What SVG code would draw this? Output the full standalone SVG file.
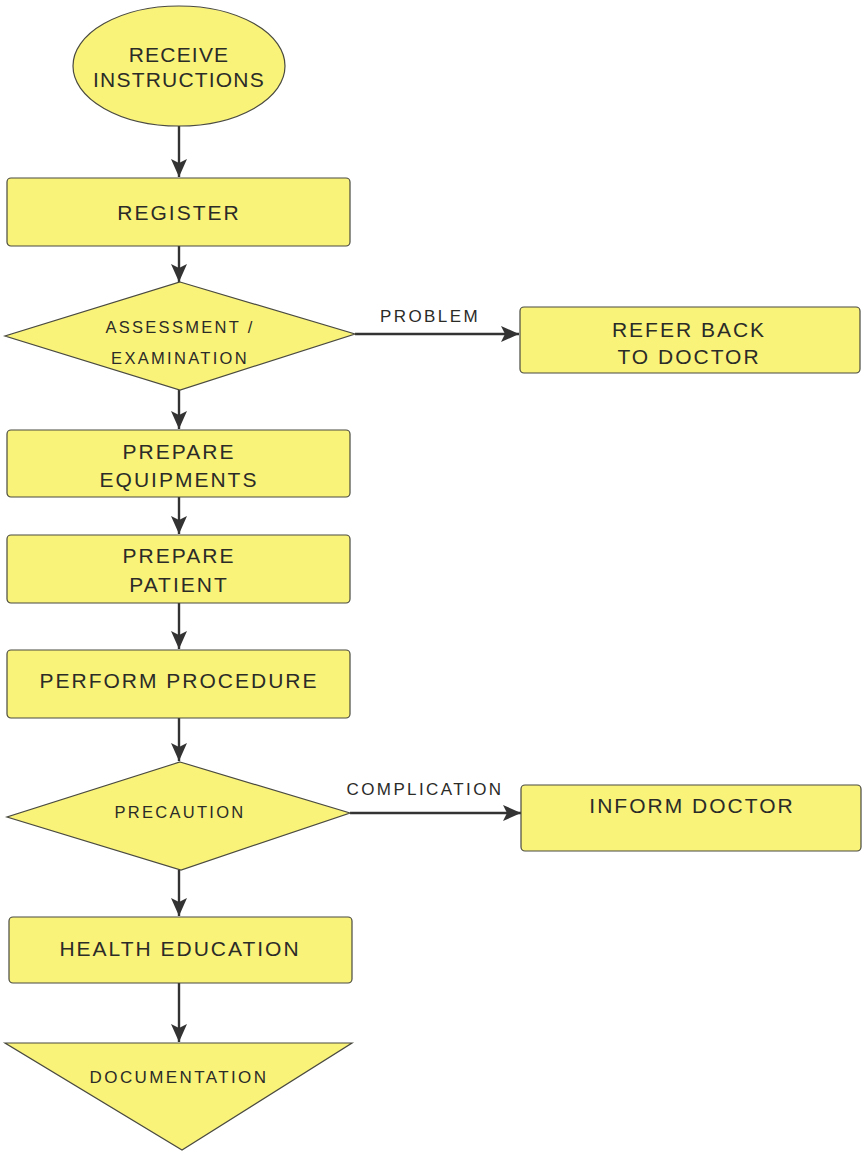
<svg xmlns="http://www.w3.org/2000/svg" width="864" height="1152" viewBox="0 0 864 1152">
<defs>
<style>
.shape{fill:#faf37a;stroke:#4a4a40;stroke-width:1.2}
.t{font-family:"Liberation Sans",Arial,Helvetica,sans-serif;fill:#2b2b28;text-anchor:middle}
.big{font-size:21px;letter-spacing:2px}
.small{font-size:16.5px;letter-spacing:2.3px}
.lab{font-size:17px;letter-spacing:2.4px}
.conn{stroke:#333;stroke-width:2.4;fill:none;marker-end:url(#ah)}
</style>
<marker id="ah" markerUnits="userSpaceOnUse" markerWidth="18" markerHeight="16" viewBox="0 0 18 16" refX="18" refY="8" orient="auto">
<path d="M0,0 L18,8 L0,16 L4,8 Z" fill="#333"/>
</marker>
</defs>
<rect width="864" height="1152" fill="#ffffff"/>

<g id="connectors">
<line class="conn" x1="179" y1="126" x2="179" y2="177"/>
<line class="conn" x1="179" y1="246" x2="179" y2="282"/>
<line class="conn" x1="179" y1="390" x2="179" y2="429"/>
<line class="conn" x1="179" y1="497" x2="179" y2="534"/>
<line class="conn" x1="179" y1="603" x2="179" y2="649"/>
<line class="conn" x1="179" y1="718" x2="179" y2="761"/>
<line class="conn" x1="179" y1="870" x2="179" y2="916"/>
<line class="conn" x1="179" y1="983" x2="179" y2="1042"/>
<line class="conn" x1="355" y1="334" x2="519" y2="334"/>
<line class="conn" x1="350" y1="813" x2="521" y2="813"/>
<text class="t lab" x="430" y="322">PROBLEM</text>
<text class="t lab" x="425" y="795">COMPLICATION</text>
</g>

<g id="receive">
<ellipse class="shape" cx="179" cy="66" rx="106" ry="60"/>
<text class="t big" style="letter-spacing:1.2px" x="179" y="62">RECEIVE</text>
<text class="t big" style="letter-spacing:1.2px" x="179" y="87">INSTRUCTIONS</text>
</g>

<g id="register">
<rect class="shape" x="7" y="178" width="343" height="68" rx="4"/>
<text class="t big" x="179" y="220">REGISTER</text>
</g>

<g id="assessment">
<polygon class="shape" points="180,282 355,334 180,390 5,336"/>
<text class="t small" x="180" y="333">ASSESSMENT /</text>
<text class="t small" x="180" y="364">EXAMINATION</text>
</g>

<g id="refer">
<rect class="shape" x="520" y="307" width="340" height="66" rx="4"/>
<text class="t big" x="689" y="337">REFER BACK</text>
<text class="t big" x="689" y="364">TO DOCTOR</text>
</g>

<g id="equip">
<rect class="shape" x="7" y="430" width="343" height="67" rx="4"/>
<text class="t big" x="179" y="459">PREPARE</text>
<text class="t big" x="179" y="487">EQUIPMENTS</text>
</g>

<g id="patient">
<rect class="shape" x="7" y="535" width="343" height="68" rx="4"/>
<text class="t big" x="179" y="563">PREPARE</text>
<text class="t big" x="179" y="592">PATIENT</text>
</g>

<g id="perform">
<rect class="shape" x="7" y="650" width="343" height="68" rx="4"/>
<text class="t big" x="179" y="688">PERFORM PROCEDURE</text>
</g>

<g id="precaution">
<polygon class="shape" points="180,762 350,813 181,870 7,817"/>
<text class="t small" x="180" y="818">PRECAUTION</text>
</g>

<g id="inform">
<rect class="shape" x="521" y="785" width="340" height="66" rx="4"/>
<text class="t big" x="692" y="813">INFORM DOCTOR</text>
</g>

<g id="health">
<rect class="shape" x="9" y="917" width="343" height="66" rx="4"/>
<text class="t big" x="180" y="956">HEALTH EDUCATION</text>
</g>

<g id="documentation">
<polygon class="shape" points="5,1043 352,1043 182,1150"/>
<text class="t lab" x="179" y="1083">DOCUMENTATION</text>
</g>
</svg>
